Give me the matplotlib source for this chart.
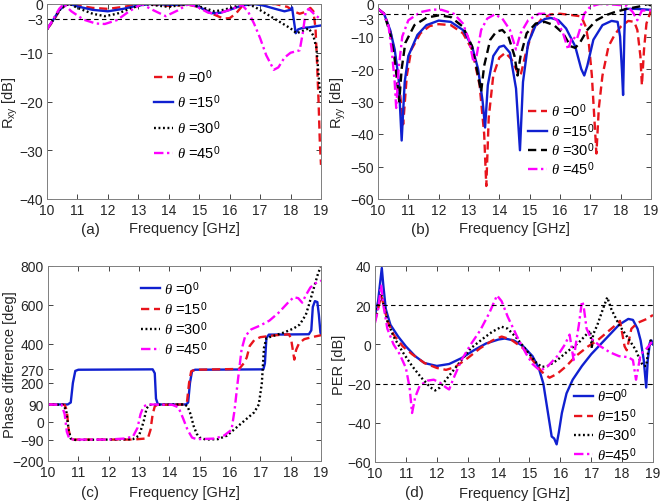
import matplotlib
matplotlib.use("Agg")
import matplotlib.pyplot as plt
from matplotlib.transforms import ScaledTranslation

plt.rcParams['font.family'] = ['Liberation Sans', 'DejaVu Sans']
plt.rcParams['mathtext.fontset'] = 'custom'
plt.rcParams['mathtext.rm'] = 'Liberation Sans'
plt.rcParams['mathtext.it'] = 'Liberation Serif:italic'

# ---------------- Panel (a): R_xy ----------------
a_f0 = [10.0, 10.2, 10.4, 10.6, 10.8, 11.0, 11.5, 12.0, 12.5, 13.0, 13.3, 13.7, 14.0, 14.5, 14.8, 15.2, 15.5, 15.8, 16.0, 16.2, 16.4, 16.6, 17.0, 17.5, 17.9, 18.1, 18.3, 18.5, 18.65, 18.75, 18.82, 18.87, 18.92, 18.96, 19.0]
a_v0 = [-5.2, -3.5, -1.5, -0.2, 0, -0.3, -0.8, -1.0, -0.6, -0.1, 0, -0.2, -0.4, -0.2, -0.3, -1.2, -2.2, -3.0, -2.9, -2.0, -0.5, 0, -0.1, 0, -0.6, -1.5, -2.0, -1.6, -0.8, -1.5, -5, -12, -20, -28, -33]
a_f15 = [10.0, 10.2, 10.4, 10.6, 10.75, 11.0, 11.5, 12.0, 12.5, 13.0, 13.4, 13.8, 14.2, 14.7, 15.0, 15.4, 15.7, 16.0, 16.4, 16.8, 17.1, 17.5, 17.8, 18.0, 18.05, 18.1, 18.17, 18.25, 18.4, 18.6, 18.8, 19.0]
a_v15 = [-5.2, -3.3, -1.3, -0.2, 0, -0.5, -1.2, -1.5, -1.0, -0.3, 0, -0.1, -0.2, 0, -0.6, -1.9, -1.8, -1.2, -0.3, 0, -0.3, -1.0, -1.5, -1.2, -0.7, -3.0, -6.0, -5.2, -4.9, -4.8, -4.6, -4.4]
a_f30 = [10.0, 10.2, 10.4, 10.6, 10.75, 11.0, 11.5, 11.9, 12.3, 12.8, 13.2, 13.6, 14.0, 14.3, 14.6, 15.0, 15.5, 15.8, 16.2, 16.5, 16.8, 17.2, 17.6, 18.0, 18.2, 18.4, 18.6, 18.75, 18.85, 18.9, 18.95, 19.0]
a_v30 = [-5.2, -3.3, -1.3, -0.2, 0, -0.8, -2.0, -2.5, -2.0, -0.8, 0, -0.3, -0.6, -0.3, 0, -0.5, -1.5, -1.2, -0.5, 0, -0.5, -2.0, -3.5, -5.0, -6.0, -5.5, -5.0, -6.5, -9, -13, -17, -19]
a_f45 = [10.0, 10.2, 10.4, 10.55, 10.8, 11.2, 11.6, 11.9, 12.3, 12.7, 13.1, 13.5, 13.9, 14.3, 14.65, 15.0, 15.3, 15.6, 16.0, 16.4, 16.6, 16.8, 17.0, 17.2, 17.45, 17.6, 17.8, 18.0, 18.3, 18.4, 18.5, 18.6, 18.8, 19.0]
a_v45 = [-5.2, -3.2, -1.0, 0, -1.5, -3.2, -4.0, -4.1, -3.3, -1.5, 0, -1.3, -2.5, -1.3, 0, -0.8, -1.8, -2.0, -1.2, -0.2, -1.5, -4.0, -7.0, -10.5, -13.5, -13.0, -11.0, -10.0, -9.5, -6.0, -1.5, -1.0, -2.2, -3.2]

# ---------------- Panel (b): R_yy ----------------
b_f0 = [10.0, 10.2, 10.4, 10.55, 10.7, 10.83, 10.95, 11.1, 11.4, 11.7, 12.0, 12.4, 12.8, 13.1, 13.35, 13.5, 13.57, 13.65, 13.8, 14.0, 14.2, 14.4, 14.6, 14.7, 14.85, 15.1, 15.4, 15.7, 16.0, 16.3, 16.7, 16.85, 16.95, 17.05, 17.15, 17.2, 17.28, 17.4, 17.6, 17.8, 18.0, 18.25, 18.45, 18.55, 18.65, 18.7, 18.77, 18.85, 19.0]
b_v0 = [-1.5, -3, -8, -15, -25, -37, -22, -14, -9, -6.8, -6.2, -6.5, -9, -14, -25, -40, -56, -35, -22, -16.5, -15, -17, -21, -22, -16, -8, -4.5, -3.2, -3, -3.3, -3.8, -7, -12, -22, -38, -46, -32, -22, -13, -9.5, -7, -5.2, -5.5, -8, -16, -25, -14, -6, -2]
b_f15 = [10.0, 10.2, 10.4, 10.55, 10.68, 10.78, 10.88, 11.0, 11.3, 11.6, 12.0, 12.4, 12.8, 13.1, 13.3, 13.45, 13.53, 13.62, 13.8, 14.0, 14.15, 14.35, 14.55, 14.68, 14.78, 14.95, 15.2, 15.5, 15.7, 15.95, 16.2, 16.5, 16.7, 16.8, 16.9, 17.1, 17.4, 17.7, 17.9, 17.98, 18.04, 18.08, 18.12, 18.15, 18.5, 19.0]
b_v15 = [-1.5, -3, -8, -14, -23, -42, -24, -16, -9.5, -6.5, -5.1, -5.5, -8, -13, -20, -30, -38, -25, -16, -13.2, -12.8, -15, -26, -45, -24, -12, -6.5, -4.6, -4.3, -5, -7.5, -13, -20, -22, -19, -11, -6.5, -5.2, -5.5, -10, -20, -28, -10, -1.5, -1.5, -1.8]
b_f30 = [10.0, 10.2, 10.4, 10.55, 10.7, 10.78, 10.9, 11.2, 11.6, 12.0, 12.4, 12.8, 13.1, 13.3, 13.4, 13.5, 13.7, 13.9, 14.1, 14.3, 14.5, 14.6, 14.7, 14.9, 15.2, 15.5, 15.8, 16.1, 16.35, 16.5, 16.65, 16.9, 17.2, 17.5, 17.8, 18.2, 18.6, 18.9, 19.0]
b_v30 = [-1.5, -3, -9, -17, -30, -20, -12, -6.5, -4.2, -3.5, -4, -7, -13, -22, -27, -19, -11, -8.5, -8, -10, -16, -22, -16, -9, -6, -5.5, -6.5, -9, -13, -13.5, -12, -8, -5, -3.5, -2.5, -1.5, -0.8, 0, -0.5]
b_f45 = [10.0, 10.2, 10.35, 10.45, 10.55, 10.6, 10.68, 10.8, 11.0, 11.4, 11.8, 12.1, 12.5, 12.8, 13.0, 13.15, 13.25, 13.4, 13.6, 13.85, 14.1, 14.35, 14.55, 14.7, 14.95, 15.3, 15.6, 15.9, 16.1, 16.27, 16.4, 16.55, 16.65, 16.8, 17.0, 17.3, 17.8, 18.2, 18.4, 18.55, 18.7, 19.0]
b_v45 = [-1.5, -3, -7, -14, -24, -32, -20, -10, -5, -2.5, -1.7, -1.8, -3, -6, -11, -18, -16, -8, -4.5, -3.2, -4.5, -8, -14, -9, -5, -3, -3, -5, -9, -14, -10, -11, -8, -3, -0.8, 0, -0.2, -0.5, -2.5, -5, -2, -2]

# ---------------- Panel (c): Phase difference ----------------
c_f0 = [10.0, 10.65, 10.75, 10.82, 10.9, 11.0, 13.45, 13.52, 13.56, 13.62, 13.7, 14.55, 14.62, 14.68, 14.75, 14.85, 17.1, 17.15, 17.2, 17.28, 18.6, 18.68, 18.73, 18.8, 18.88, 18.93, 18.98, 19.0]
c_v0 = [90, 90, 100, 200, 262, 268, 270, 250, 120, 92, 90, 90, 100, 200, 262, 268, 270, 300, 430, 448, 450, 470, 590, 620, 615, 550, 460, 450]
c_f15 = [10.0, 10.55, 10.62, 10.68, 10.75, 10.85, 12.8, 13.2, 13.3, 13.38, 13.45, 13.52, 13.6, 14.5, 14.58, 14.65, 14.72, 14.85, 16.3, 16.45, 16.55, 16.65, 16.8, 17.0, 17.5, 17.95, 18.02, 18.08, 18.12, 18.18, 18.28, 18.45, 18.7, 19.0]
c_v15 = [90, 88, 60, -40, -85, -90, -90, -85, -80, -40, 40, 80, 88, 90, 100, 200, 260, 268, 272, 300, 330, 390, 420, 435, 445, 450, 420, 360, 320, 370, 405, 425, 435, 445]
c_f30 = [10.0, 10.5, 10.6, 10.68, 10.75, 10.9, 12.0, 12.8, 13.0, 13.15, 13.25, 13.35, 14.5, 14.6, 14.7, 14.8, 14.9, 15.0, 15.2, 15.6, 15.9, 16.2, 16.5, 16.8, 16.95, 17.05, 17.12, 17.2, 17.5, 17.8, 18.1, 18.3, 18.5, 18.6, 18.75, 18.9, 19.0]
c_v30 = [90, 88, 60, -40, -85, -92, -90, -88, -70, 0, 70, 88, 90, 80, 40, -20, -60, -80, -90, -88, -70, -30, 10, 50, 90, 200, 380, 430, 445, 460, 480, 500, 550, 600, 680, 760, 800]
c_f45 = [10.0, 10.45, 10.55, 10.62, 10.7, 10.85, 12.0, 12.5, 12.8, 12.95, 13.05, 13.15, 13.3, 14.1, 14.3, 14.45, 14.6, 14.75, 14.9, 15.5, 15.8, 16.05, 16.15, 16.25, 16.38, 16.5, 16.7, 17.0, 17.3, 17.6, 17.9, 18.1, 18.25, 18.38, 18.5, 18.65, 18.8, 19.0]
c_v45 = [90, 88, 40, -50, -85, -90, -90, -85, -75, -30, 40, 80, 90, 88, 75, 20, -40, -80, -88, -85, -70, -40, 60, 200, 370, 440, 475, 495, 520, 560, 610, 640, 635, 612, 650, 690, 710, 725]

# ---------------- Panel (d): PER ----------------
d_f0 = [10.0, 10.1, 10.17, 10.22, 10.27, 10.35, 10.5, 10.75, 11.0, 11.3, 11.6, 12.0, 12.4, 12.8, 13.2, 13.6, 14.0, 14.2, 14.5, 14.8, 15.1, 15.3, 15.45, 15.6, 15.72, 15.8, 15.88, 15.95, 16.05, 16.2, 16.4, 16.7, 17.0, 17.3, 17.6, 17.9, 18.2, 18.35, 18.5, 18.6, 18.7, 18.78, 18.83, 18.9, 18.95, 19.0]
d_v0 = [15, 22, 32, 39, 30, 18, 10, 4, -1, -6, -9.5, -11, -10, -7, -3, 0.5, 2.5, 3, 2, -1, -6, -12, -20, -35, -47, -48, -51, -45, -35, -25, -18, -11, -5, 0, 5, 10, 13, 12.5, 8, 2, -8, -22, -8, 1, 2, 0]
d_f15 = [10.0, 10.1, 10.2, 10.28, 10.4, 10.6, 10.9, 11.2, 11.6, 12.0, 12.3, 12.6, 13.0, 13.4, 13.8, 14.1, 14.4, 14.8, 15.1, 15.4, 15.65, 15.9, 16.2, 16.5, 16.9, 17.2, 17.5, 17.8, 17.93, 18.0, 18.08, 18.15, 18.22, 18.3, 18.5, 18.8, 19.0]
d_v15 = [12, 18, 25, 20, 12, 5, -1, -5, -9.5, -12, -13, -11.5, -7, -2, 2, 4, 2.5, -2, -8, -14, -17, -15, -11, -6, -1, 2, 6, 10, 12, 6, -1, -3, 2, 8, 11, 13, 15]
d_f30 = [10.0, 10.1, 10.2, 10.28, 10.4, 10.6, 10.9, 11.2, 11.5, 11.8, 11.95, 12.1, 12.4, 12.8, 13.1, 13.5, 13.8, 14.1, 14.3, 14.6, 14.9, 15.2, 15.4, 15.6, 15.9, 16.2, 16.6, 16.9, 16.97, 17.02, 17.06, 17.2, 17.4, 17.52, 17.65, 17.9, 18.2, 18.45, 18.6, 18.7, 18.78, 18.85, 18.92, 19.0]
d_v30 = [13, 20, 26, 20, 12, 4, -4, -11, -17, -22, -23.5, -22, -16, -8, -2, 3, 6.5, 9, 8, 3, -3, -9, -11.5, -11, -8, -4, 1, 6, 7, -2, 5, 10, 19, 24, 18, 10, 3, -3, -9, -11, -11, -3, 2, 1]
d_f45 = [10.0, 10.1, 10.2, 10.27, 10.4, 10.6, 10.8, 11.0, 11.12, 11.2, 11.3, 11.45, 11.7, 11.9, 12.1, 12.3, 12.4, 12.55, 12.8, 13.1, 13.4, 13.7, 13.95, 14.1, 14.3, 14.6, 14.9, 15.1, 15.35, 15.6, 15.9, 16.15, 16.3, 16.38, 16.43, 16.5, 16.6, 16.7, 16.75, 16.85, 17.0, 17.3, 17.6, 17.9, 18.2, 18.35, 18.45, 18.52, 18.6, 18.8, 19.0]
d_v45 = [11, 18, 30, 20, 8, 0, -5, -12, -22, -35, -27, -21, -18.5, -18, -19.5, -22, -23, -17, -8, 0, 7, 16, 25, 22, 14, 4, -5, -10, -13.5, -11, -6, 0, 5, -3, -8, 0, 10, 22, 20, 8, 3, -1, -4, -6, -6.5, -8, -18, -12, -5, -2, 2]

labels_sp = [r'$\theta$ =0$^0$', r'$\theta$ =15$^0$', r'$\theta$ =30$^0$', r'$\theta$ =45$^0$']
labels_ns = [r'$\theta$=0$^0$', r'$\theta$=15$^0$', r'$\theta$=30$^0$', r'$\theta$=45$^0$']

RED = '#e8141c'
BLUE = '#1020d0'
BLACK = '#000000'
MAG = '#ff00ff'
LW = 1.7
AXC = '#262626'
TFS = 10
LFS = 10.5

W, H = 660, 502
fig = plt.figure(figsize=(6.6, 5.02), dpi=100)

def add_ax(l, r, t, b):
    return fig.add_axes([l / W, (H - b) / H, (r - l) / W, (b - t) / H])

def style(ax, ylim, yticks, ylabel, ylab_x):
    ax.set_xlim(10, 19)
    ax.set_ylim(*ylim)
    ax.set_xticks(range(10, 20))
    ax.set_yticks(yticks)
    ax.tick_params(direction='in', top=True, right=True, length=3.5, width=0.6,
                   labelsize=TFS, colors=AXC, pad=3)
    for s in ax.spines.values():
        s.set_color('#7f7f7f')
        s.set_linewidth(0.7)
    ax.set_ylabel(ylabel, fontsize=LFS, color=AXC)
    ax.yaxis.set_label_coords(ylab_x, 0.5)

DASH = (0, (3.5, 2))
DOT = (0, (0.8, 1.1))
DASHDOT = (0, (4, 1.5, 1, 1.5))
REF = (0, (4, 3))
leg_kw = dict(loc='upper left', frameon=False, fontsize=LFS, handlelength=1.3,
              handletextpad=0.3, borderpad=0, borderaxespad=0)

# (a)
axa = add_ax(47, 321, 5, 200)
axa.plot(a_f0, a_v0, color=RED, lw=LW, ls=DASH, label=labels_sp[0])
axa.plot(a_f15, a_v15, color=BLUE, lw=LW, ls='-', label=labels_sp[1])
axa.plot(a_f30, a_v30, color=BLACK, lw=LW, ls=DOT, label=labels_sp[2])
axa.plot(a_f45, a_v45, color=MAG, lw=LW, ls=DASHDOT, label=labels_sp[3])
axa.axhline(-3, color='k', lw=0.8, ls=REF)
style(axa, (-40, 0), [-40, -30, -20, -10, -3, 0], r'R$_{\mathrm{xy}}$ [dB]', -0.10)
axa.set_xlabel('Frequency [GHz]', fontsize=LFS, color=AXC, labelpad=3)
axa.legend(bbox_to_anchor=(0.39, 0.675), labelspacing=0.5, **leg_kw)

# (b)
axb = add_ax(378, 651, 5, 200)
axb.plot(b_f0, b_v0, color=RED, lw=LW, ls=DASH, label=labels_sp[0])
axb.plot(b_f15, b_v15, color=BLUE, lw=LW, ls='-', label=labels_sp[1])
axb.plot(b_f30, b_v30, color=BLACK, lw=LW, ls=DASH, label=labels_sp[2])
axb.plot(b_f45, b_v45, color=MAG, lw=LW, ls=DASHDOT, label=labels_sp[3])
axb.axhline(-3, color='k', lw=0.8, ls=REF)
style(axb, (-60, 0), [-60, -50, -40, -30, -20, -10, -3, 0], r'R$_{\mathrm{yy}}$ [dB]', -0.11)
axb.set_xlabel('Frequency [GHz]', fontsize=LFS, color=AXC, labelpad=3)
axb.legend(bbox_to_anchor=(0.55, 0.50), labelspacing=0.1, **leg_kw)

# (c)
axc = add_ax(48, 321, 267, 462)
axc.plot(c_f0, c_v0, color=BLUE, lw=LW, ls='-', label=labels_sp[0])
axc.plot(c_f15, c_v15, color=RED, lw=LW, ls=DASH, label=labels_sp[1])
axc.plot(c_f30, c_v30, color=BLACK, lw=LW, ls=DOT, label=labels_sp[2])
axc.plot(c_f45, c_v45, color=MAG, lw=LW, ls=DASHDOT, label=labels_sp[3])
style(axc, (-200, 800), [-200, -90, 0, 90, 200, 270, 400, 600, 800], 'Phase difference [deg]', -0.115)
axc.set_xlabel('Frequency [GHz]', fontsize=LFS, color=AXC, labelpad=4)
axc.legend(bbox_to_anchor=(0.34, 0.935), labelspacing=0.15, **leg_kw)

# (d)
axd = add_ax(375, 653, 267, 463)
axd.plot(d_f0, d_v0, color=BLUE, lw=LW, ls='-', label=labels_ns[0])
axd.plot(d_f15, d_v15, color=RED, lw=LW, ls=DASH, label=labels_ns[1])
axd.plot(d_f30, d_v30, color=BLACK, lw=LW, ls=DOT, label=labels_ns[2])
axd.plot(d_f45, d_v45, color=MAG, lw=LW, ls=DASHDOT, label=labels_ns[3])
axd.axhline(20, color='k', lw=0.8, ls=REF)
axd.axhline(-20, color='k', lw=0.8, ls=REF)
style(axd, (-60, 40), [-60, -40, -20, 0, 20, 40], 'PER [dB]', -0.105)
axd.set_xlabel('Frequency [GHz]', fontsize=LFS, color=AXC, labelpad=4)
axd.legend(bbox_to_anchor=(0.715, 0.385), labelspacing=0.1, **leg_kw)

for txt, x, y in [('(a)', 90, 230), ('(b)', 420, 230), ('(c)', 90, 493), ('(d)', 414, 493)]:
    fig.text(x / W, 1 - y / H, txt, fontsize=11, color=AXC, ha='center', va='center')

# nudge the crowded "-3" tick label of panel (b) down slightly so it clears "0"
fig.canvas.draw()
for tick in axb.yaxis.get_major_ticks():
    lab = tick.label1
    if lab.get_text() in ('\u22123', '-3'):
        lab.set_transform(lab.get_transform() + ScaledTranslation(0, -3.4 / 72, fig.dpi_scale_trans))

fig.savefig('out.png', dpi=100)
